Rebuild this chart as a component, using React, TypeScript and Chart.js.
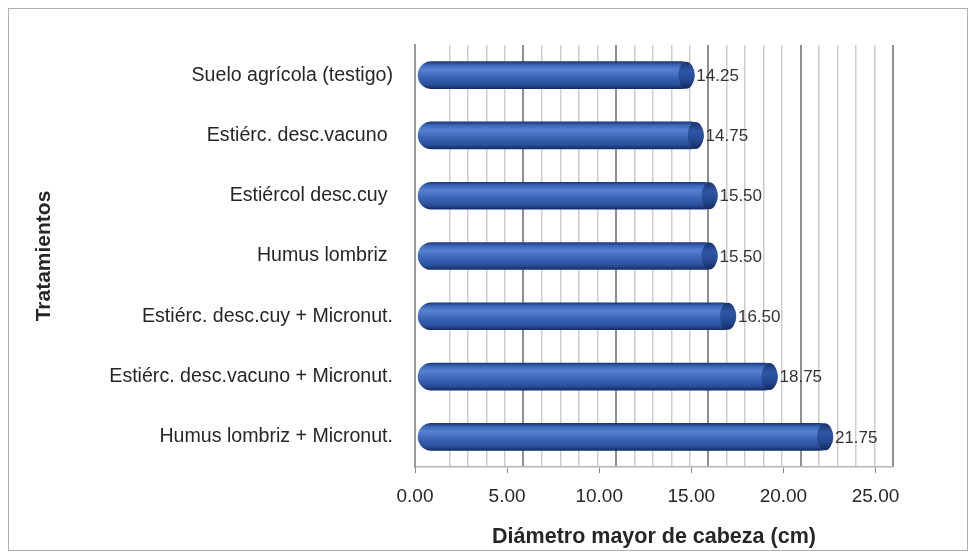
import React, { useEffect, useRef } from "react";
import { Chart, registerables } from "chart.js";
Chart.register(...registerables);

const categories = [
  "Suelo agrícola (testigo)",
  "Estiérc. desc.vacuno ",
  "Estiércol desc.cuy ",
  "Humus lombriz ",
  "Estiérc. desc.cuy + Micronut.",
  "Estiérc. desc.vacuno + Micronut.",
  "Humus lombriz + Micronut.",
];
const values = [14.25, 14.75, 15.5, 15.5, 16.5, 18.75, 21.75];
const xTickValues = [0, 5, 10, 15, 20, 25];
const xAxisTitle = "Diámetro mayor de cabeza (cm)";
const yAxisTitle = "Tratamientos";

const FONT = "'Liberation Sans Narrow', 'Arial Narrow', 'Liberation Sans', Arial, sans-serif";
const BAR_H = 27;

const barPlugin = {
  id: "barDecor",
  afterDatasetsDraw(chart: any) {
    const c = chart.ctx;
    const meta = chart.getDatasetMeta(0);
    meta.data.forEach((el: any, i: number) => {
      const x = el.x;
      const y = el.y;
      const h = BAR_H;
      c.save();
      const g = c.createLinearGradient(0, y - h / 2, 0, y + h / 2);
      g.addColorStop(0, "#1a3470");
      g.addColorStop(0.35, "#2f56a6");
      g.addColorStop(0.7, "#23478f");
      g.addColorStop(1, "#132a5e");
      c.fillStyle = g;
      c.beginPath();
      c.ellipse(x - 8, y, 8, h / 2, 0, 0, Math.PI * 2);
      c.fill();
      c.restore();
      c.save();
      c.font = `17px ${FONT}`;
      c.fillStyle = "#333333";
      c.textAlign = "left";
      c.textBaseline = "middle";
      c.fillText(values[i].toFixed(2), x + 2, y + 1);
      c.restore();
    });
  },
};

export default function App() {
  const ref = useRef<HTMLCanvasElement>(null);
  useEffect(() => {
    if (!ref.current) return;
    const chart = new Chart(ref.current, {
      type: "bar",
      data: {
        labels: categories,
        datasets: [
          {
            data: values,
            xAxisID: "xb",
            base: -0.7,
            barThickness: BAR_H,
            borderRadius: 14,
            borderSkipped: false,
            backgroundColor: (ctx: any) => {
              const chart = ctx.chart;
              const ys = chart.scales && chart.scales.y;
              if (!ys || !chart.chartArea) return "#3560b0";
              const yc = ys.getPixelForValue(ctx.dataIndex);
              const g = chart.ctx.createLinearGradient(0, yc - BAR_H / 2, 0, yc + BAR_H / 2);
              g.addColorStop(0, "#1c3876");
              g.addColorStop(0.12, "#3a66b8");
              g.addColorStop(0.3, "#5682cf");
              g.addColorStop(0.55, "#3d68b8");
              g.addColorStop(0.85, "#2a4f9c");
              g.addColorStop(1, "#142c64");
              return g;
            },
          } as any,
        ],
      },
      options: {
        animation: false,
        responsive: true,
        maintainAspectRatio: false,
        indexAxis: "y",
        layout: { padding: { left: 0, right: 74, top: 36, bottom: 0 } },
        plugins: { legend: { display: false }, tooltip: { enabled: false } },
        scales: {
          xb: {
            type: "linear",
            position: "top",
            min: -0.87,
            max: 25,
            display: true,
            ticks: { display: false, stepSize: 1 },
            border: { display: false },
            grid: {
              drawTicks: false,
              tickLength: 0,
              color: (c: any) => {
                const v = c.tick ? c.tick.value : 0;
                if (v < 0) return "rgba(0,0,0,0)";
                return Math.abs(v % 5) < 1e-6 ? "#8f8f8f" : "#cdcdcd";
              },
              lineWidth: (c: any) => {
                const v = c.tick ? c.tick.value : 0;
                return Math.abs(v % 5) < 1e-6 ? 2 : 1.5;
              },
            },
            afterFit: (s: any) => {
              s.height = 0;
            },
          } as any,
          x: {
            type: "linear",
            position: "bottom",
            min: 0,
            max: 25.95,
            afterBuildTicks: (s: any) => {
              s.ticks = xTickValues.map((v) => ({ value: v }));
            },
            ticks: {
              callback: (v: any) => Number(v).toFixed(2),
              font: { family: FONT, size: 19 },
              color: "#262626",
              padding: 12,
              autoSkip: false,
              maxRotation: 0,
            },
            grid: { drawOnChartArea: false, drawTicks: true, tickLength: 6, color: "#888888" },
            border: { display: true, color: "#b5b5b5", width: 1.5 },
            title: {
              display: true,
              text: xAxisTitle,
              font: { family: FONT, size: 21.5, weight: "bold" },
              color: "#262626",
              padding: { top: 0, bottom: 0 },
            },
            afterFit: (s: any) => {
              s.height = 83;
            },
          } as any,
          y: {
            type: "category",
            offset: true,
            grid: { display: false, drawTicks: false },
            border: { display: true, color: "#9a9a9a", width: 2 },
            ticks: { font: { family: FONT, size: 19.6 }, color: "#262626", padding: 22 },
            title: {
              display: true,
              text: yAxisTitle,
              font: { family: FONT, size: 21, weight: "bold" },
              color: "#262626",
              padding: { top: 23, bottom: 0 },
            },
            afterFit: (s: any) => {
              s.width = 406;
            },
          } as any,
        },
      },
      plugins: [barPlugin],
    } as any);
    return () => chart.destroy();
  }, []);

  return (
    <div
      style={{
        width: 960,
        height: 543,
        border: "1px solid #b0b0b0",
        boxSizing: "border-box",
        position: "relative",
        background: "#ffffff",
      }}
    >
      <div style={{ width: 958, height: 541, position: "relative" }}>
        <canvas ref={ref} />
      </div>
    </div>
  );
}
